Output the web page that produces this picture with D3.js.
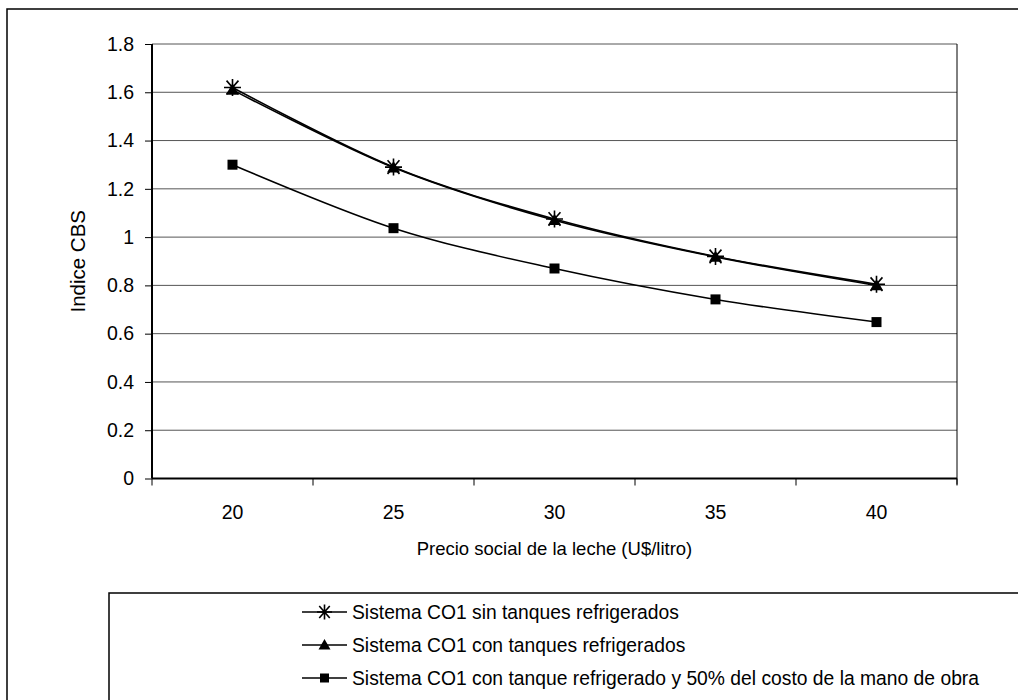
<!DOCTYPE html>
<html>
<head>
<meta charset="utf-8">
<script src="https://cdn.jsdelivr.net/npm/d3@7"></script>
<style>
  html, body { margin: 0; padding: 0; background: #fff; }
  svg { display: block; font-family: "Liberation Sans", Arial, sans-serif; }
</style>
</head>
<body>
<svg id="chart" width="1018" height="700"></svg>
<script>
// Precio social de la leche (U$/litro)
const precios = [20, 25, 30, 35, 40];
// Indice CBS por sistema
const sinTanques = [1.62, 1.29, 1.075, 0.92, 0.805];
const conTanques = [1.61, 1.288, 1.07, 0.918, 0.80];
const conTanque50 = [1.30, 1.037, 0.87, 0.742, 0.648];
const yTicks = [0, 0.2, 0.4, 0.6, 0.8, 1, 1.2, 1.4, 1.6, 1.8];
const seriesNames = [
  "Sistema CO1 sin tanques refrigerados",
  "Sistema CO1 con tanques refrigerados",
  "Sistema CO1 con tanque refrigerado y 50% del costo de la mano de obra"
];

const svg = d3.select("#chart");

// outer chart frame
svg.append("rect").attr("x", 7).attr("y", 9).attr("width", 1040).attr("height", 720)
  .attr("fill", "none").attr("stroke", "#000").attr("stroke-width", 1.5);

const plot = { left: 152, right: 957, top: 44, bottom: 478.5 };

const x = d3.scaleBand().domain(precios).range([plot.left, plot.right]);
const y = d3.scaleLinear().domain([0, 1.8]).range([plot.bottom, plot.top]);

// horizontal gridlines
svg.append("g").selectAll("line").data(yTicks.filter(d => d > 0)).join("line")
  .attr("x1", plot.left).attr("x2", plot.right)
  .attr("y1", d => y(d)).attr("y2", d => y(d))
  .attr("stroke", "#555").attr("stroke-width", 1);

// right border of the plot area
svg.append("line").attr("x1", plot.right).attr("x2", plot.right)
  .attr("y1", plot.top).attr("y2", plot.bottom + 6)
  .attr("stroke", "#000").attr("stroke-width", 1);

// y axis
const yAxis = svg.append("g").attr("transform", `translate(${plot.left},0)`)
  .call(d3.axisLeft(y).tickValues(yTicks).tickFormat(d => String(d)).tickSize(7).tickPadding(11));
yAxis.select(".domain").attr("stroke", "#000").attr("stroke-width", 2)
  .attr("d", `M0,${plot.top}V${plot.bottom}`);
yAxis.selectAll(".tick line").attr("stroke", "#000");
yAxis.selectAll(".tick text").attr("font-size", 19.5).attr("fill", "#000")
  .attr("font-family", "Liberation Sans, Arial, sans-serif");

// x axis: category labels centred in bands, ticks at band boundaries
const xAxisG = svg.append("g").attr("transform", `translate(0,${plot.bottom})`);
xAxisG.append("line").attr("x1", plot.left).attr("x2", plot.right)
  .attr("y1", 0).attr("y2", 0).attr("stroke", "#000").attr("stroke-width", 2);
const bounds = precios.map(p => x(p)).concat([x(precios[precios.length - 1]) + x.bandwidth()]);
xAxisG.selectAll("line.tk").data(bounds).join("line").attr("class", "tk")
  .attr("x1", d => d).attr("x2", d => d).attr("y1", 0).attr("y2", 7)
  .attr("stroke", "#000").attr("stroke-width", 1);
xAxisG.selectAll("text").data(precios).join("text")
  .attr("x", d => x(d) + x.bandwidth() / 2).attr("y", 40)
  .attr("text-anchor", "middle").attr("font-size", 19.5).text(d => d);

// axis titles
svg.append("text").attr("x", (plot.left + plot.right) / 2).attr("y", 555)
  .attr("text-anchor", "middle").attr("font-size", 18.5)
  .text("Precio social de la leche (U$/litro)");
svg.append("text").attr("transform", `translate(85,${(plot.top + plot.bottom) / 2}) rotate(-90)`)
  .attr("text-anchor", "middle").attr("font-size", 20.5).text("Indice CBS");

const cx = d => x(d) + x.bandwidth() / 2;
const line = d3.line().x(d => cx(d[0])).y(d => y(d[1])).curve(d3.curveCatmullRom.alpha(0));

function markerPath(type, size) {
  const h = size / 2;
  if (type === "star") {
    return `M${-h},0H${h}M${-h * 0.7},${-h * 0.8}L${h * 0.7},${h * 0.8}M${-h * 0.7},${h * 0.8}L${h * 0.7},${-h * 0.8}M0,${-h}V${h}`;
  }
  if (type === "triangle") {
    return `M0,${-h}L${h},${h * 0.75}L${-h},${h * 0.75}Z`;
  }
  return `M${-h},${-h}H${h}V${h}H${-h}Z`;
}

const series = [
  { name: seriesNames[0], values: sinTanques, marker: "star", size: 17, width: 1.6 },
  { name: seriesNames[1], values: conTanques, marker: "triangle", size: 13, width: 1.6 },
  { name: seriesNames[2], values: conTanque50, marker: "square", size: 10, width: 1.5 }
];

function drawMarker(g, s) {
  if (s.marker === "star") {
    g.append("path").attr("d", markerPath("star", s.size)).attr("fill", "none")
      .attr("stroke", "#000").attr("stroke-width", 1.6);
  } else {
    g.append("path").attr("d", markerPath(s.marker, s.size)).attr("fill", "#000");
  }
}

series.forEach(s => {
  const pts = precios.map((p, i) => [p, s.values[i]]);
  svg.append("path").datum(pts).attr("d", line).attr("fill", "none")
    .attr("stroke", "#000").attr("stroke-width", s.width);
  pts.forEach(pt => {
    const g = svg.append("g").attr("transform", `translate(${cx(pt[0])},${y(pt[1])})`);
    drawMarker(g, s);
  });
});

// legend box
svg.append("rect").attr("x", 109).attr("y", 593).attr("width", 960).attr("height", 150)
  .attr("fill", "none").attr("stroke", "#000").attr("stroke-width", 1.5);
const leg = svg.append("g");
series.forEach((s, i) => {
  const ly = 612 + i * 33;
  leg.append("line").attr("x1", 302).attr("x2", 347).attr("y1", ly).attr("y2", ly)
    .attr("stroke", "#000").attr("stroke-width", 1.5);
  const g = leg.append("g").attr("transform", `translate(324.5,${ly})`);
  drawMarker(g, { marker: s.marker, size: s.marker === "star" ? 15 : s.marker === "triangle" ? 12 : 9 });
  leg.append("text").attr("x", 352).attr("y", ly + 6.5).attr("font-size", 19.3).text(s.name);
});
</script>
</body>
</html>
